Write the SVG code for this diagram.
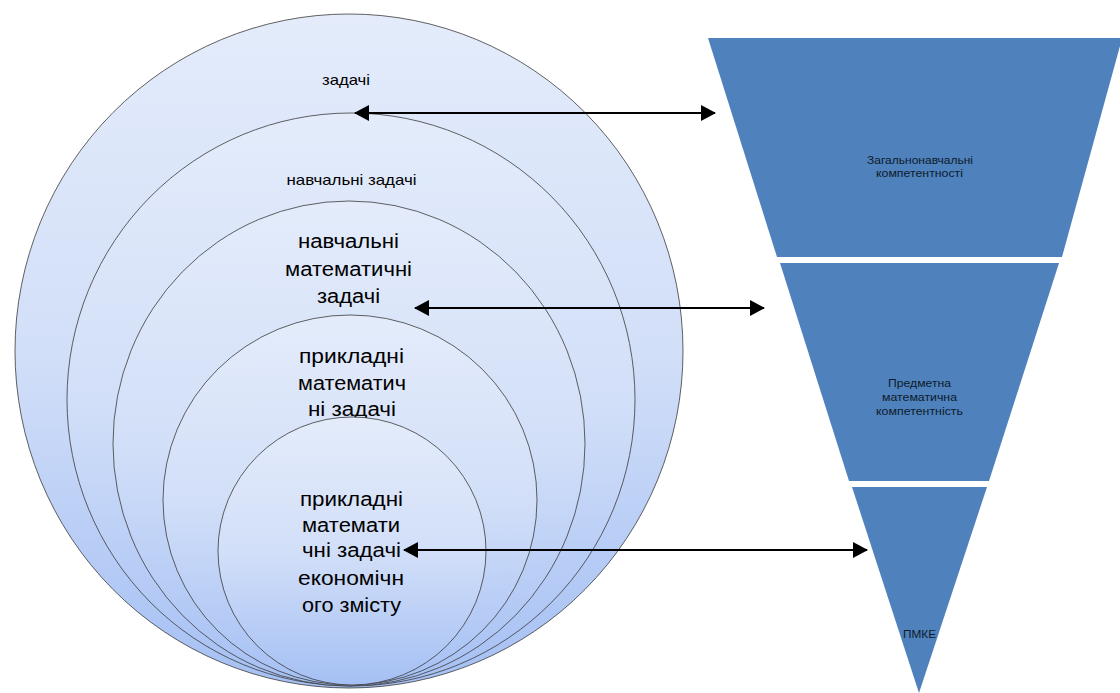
<svg xmlns="http://www.w3.org/2000/svg" width="1120" height="693" viewBox="0 0 1120 693">
<defs>
<linearGradient id="g" x1="0" y1="0" x2="0" y2="1">
<stop offset="0" stop-color="#e4ecfb"/>
<stop offset="0.5" stop-color="#d2dff8"/>
<stop offset="1" stop-color="#a5c0f4"/>
</linearGradient>
<marker id="ah" markerUnits="userSpaceOnUse" markerWidth="16" markerHeight="16" refX="14" refY="8" orient="auto-start-reverse" viewBox="0 0 16 16">
<path d="M0,0 L15,8 L0,16 Z" fill="#000"/>
</marker>
<style>
.c{fill:url(#g);stroke:#3a3a3a;stroke-width:0.8}
.t{font-family:"Liberation Sans",Arial,sans-serif;fill:#000;text-anchor:middle}
.s{font-size:15px}
.m{font-size:20px}
.f{fill:#4f81bd}
.ft{font-family:"Liberation Sans",Arial,sans-serif;font-size:11px;fill:#0d1b2a;text-anchor:middle}
.a{stroke:#000;stroke-width:2;fill:none;marker-start:url(#ah);marker-end:url(#ah)}
</style>
</defs>
<g id="circle-tasks">
<ellipse class="c" cx="349" cy="351" rx="334" ry="337"/>
<text class="t s" x="346" y="85" textLength="48" lengthAdjust="spacingAndGlyphs">задачі</text>
</g>
<g id="circle-learning">
<ellipse class="c" cx="351" cy="399.5" rx="284" ry="286.5"/>
<text class="t s" x="351.5" y="185" textLength="130" lengthAdjust="spacingAndGlyphs">навчальні задачі</text>
</g>
<g id="circle-math">
<ellipse class="c" cx="349" cy="443.5" rx="236" ry="242.5"/>
<text class="t m" x="348.5" y="248" textLength="101" lengthAdjust="spacingAndGlyphs">навчальні</text>
<text class="t m" x="348.5" y="276" textLength="127" lengthAdjust="spacingAndGlyphs">математичні</text>
<text class="t m" x="348.5" y="303" textLength="63" lengthAdjust="spacingAndGlyphs">задачі</text>
</g>
<g id="circle-applied">
<ellipse class="c" cx="350" cy="500" rx="187" ry="185"/>
<text class="t m" x="351.5" y="363" textLength="105" lengthAdjust="spacingAndGlyphs">прикладні</text>
<text class="t m" x="352" y="390" textLength="108" lengthAdjust="spacingAndGlyphs">математич</text>
<text class="t m" x="352" y="416" textLength="88" lengthAdjust="spacingAndGlyphs">ні задачі</text>
</g>
<g id="circle-economic">
<ellipse class="c" cx="352" cy="551" rx="134" ry="134"/>
<text class="t m" x="351.5" y="506" textLength="103" lengthAdjust="spacingAndGlyphs">прикладні</text>
<text class="t m" x="351" y="532" textLength="98" lengthAdjust="spacingAndGlyphs">математи</text>
<text class="t m" x="351.5" y="557" textLength="99" lengthAdjust="spacingAndGlyphs">чні задачі</text>
<text class="t m" x="351" y="585" textLength="106" lengthAdjust="spacingAndGlyphs">економічн</text>
<text class="t m" x="351.5" y="612" textLength="99" lengthAdjust="spacingAndGlyphs">ого змісту</text>
</g>
<g id="funnel-general">
<polygon class="f" points="708,38 1120,38 1120,46 1062,257 777,257"/>
<text class="ft" x="920" y="164" textLength="106" lengthAdjust="spacingAndGlyphs">Загальнонавчальні</text>
<text class="ft" x="919.5" y="177" textLength="87" lengthAdjust="spacingAndGlyphs">компетентності</text>
</g>
<g id="funnel-subject">
<polygon class="f" points="780,263 1059,263 989,481 849,481"/>
<text class="ft" x="919.5" y="387" textLength="63" lengthAdjust="spacingAndGlyphs">Предметна</text>
<text class="ft" x="919.5" y="401" textLength="75" lengthAdjust="spacingAndGlyphs">математична</text>
<text class="ft" x="919.5" y="415" textLength="87" lengthAdjust="spacingAndGlyphs">компетентність</text>
</g>
<g id="funnel-pmke">
<polygon class="f" points="852,487 987,487 919,693"/>
<text class="ft" x="919.5" y="638" textLength="33" lengthAdjust="spacingAndGlyphs">ПМКЕ</text>
</g>
<g id="connectors">
<line class="a" x1="355" y1="113" x2="715" y2="113"/>
<line class="a" x1="415" y1="308" x2="764" y2="308"/>
<line class="a" x1="404" y1="550" x2="867" y2="550"/>
</g>
</svg>
